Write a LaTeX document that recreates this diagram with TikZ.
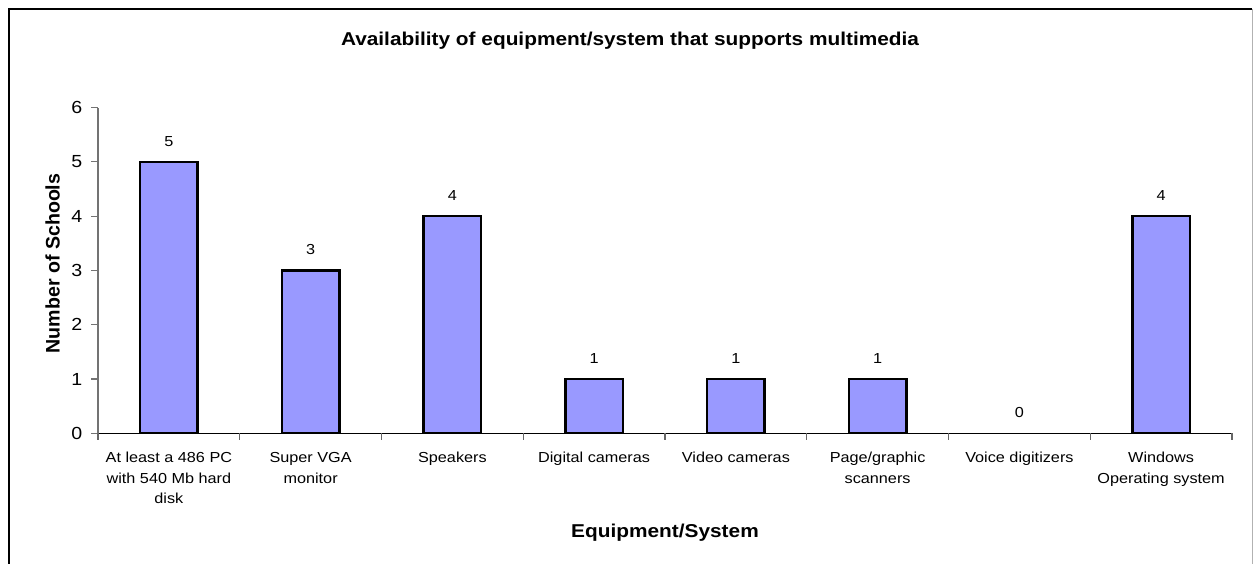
\documentclass[tikz,border=0pt]{standalone}
\usepackage{fontspec}
\setmainfont{Liberation Sans}
\usepackage{graphicx}
% text in this chart is set slightly wide
\newcommand{\widetext}[1]{\scalebox{1.12}[1]{#1}}
\newcommand{\catlines}[1]{\widetext{\begin{tabular}{@{}c@{}}#1\end{tabular}}}
\definecolor{barfill}{HTML}{9999FF}
\begin{document}
\begin{tikzpicture}[x=1pt,y=-1pt,
  barbox/.style={fill=barfill,draw=black,line width=2.3pt},
  vallabel/.style={inner sep=0pt,anchor=center,font=\fontsize{14.5}{17}\selectfont},
  catlabel/.style={inner sep=0pt,anchor=north,font=\fontsize{14.5}{20.5}\selectfont},
  ticklabel/.style={inner sep=0pt,anchor=east,font=\fontsize{17.5}{20}\selectfont},
  titletext/.style={inner sep=0pt,anchor=base,font=\fontsize{18.6}{22}\selectfont\bfseries},
  axisline/.style={line width=1.1pt}]
\useasboundingbox (0,0) rectangle (1253,564);
\fill[white] (0,0) rectangle (1253,564);

% chart frame
\draw[line width=1.3pt,black] (9,564) -- (9,9) -- (1252,9);
\draw[line width=1pt,black!30] (1252,9) -- (1252,564);

% chart title and axis titles
\node[titletext] (title) at (630,46) {\widetext{Availability of equipment/system that supports multimedia}};
\node[titletext] (xtitle) at (665,537) {\widetext{Equipment/System}};
\node[inner sep=0pt,anchor=base,rotate=90,font=\fontsize{19.6}{22}\selectfont\bfseries] (ytitle) at (59.5,263.5) {Number of Schools};

% value axis with ticks
\coordinate (origin) at (98,433.3);
\coordinate (ytop) at (98,107.7);
\coordinate (xend) at (1232,433.3);
\draw[axisline,black!55] (origin) -- (ytop);
\foreach \t in {0,...,6} {
  \draw[axisline,black!55] (91,433.3-54.27*\t) -- (98,433.3-54.27*\t);
  \node[ticklabel] (tick\t) at (82.5,433.3-54.27*\t) {\widetext{\t}};
}

% bars with value labels
\foreach \v [count=\i from 0] in {5,3,4,1,1,1,0,4} {
  \pgfmathsetmacro\cx{98+141.75*(\i+0.5)}
  \ifnum\v>0
    \draw[barbox] (\cx-28.75,433.3) rectangle (\cx+28.75,433.3-54.27*\v);
  \fi
  \node[vallabel] (val\i) at (\cx,433.3-54.27*\v-20.5) {\widetext{\v}};
}

% category axis
\draw[axisline,black] (origin) -- (xend);
\foreach \k in {0,...,8} {
  \draw[axisline,black!60] (98+141.75*\k,433.3) -- (98+141.75*\k,439.5);
}
\node[catlabel] (cat0) at (168.9,448.3) {\catlines{At least a 486 PC\\with 540 Mb hard\\disk}};
\node[catlabel] (cat1) at (310.6,448.3) {\catlines{Super VGA\\monitor}};
\node[catlabel] (cat2) at (452.4,448.3) {\catlines{Speakers}};
\node[catlabel] (cat3) at (594.1,448.3) {\catlines{Digital cameras}};
\node[catlabel] (cat4) at (735.9,448.3) {\catlines{Video cameras}};
\node[catlabel] (cat5) at (877.6,448.3) {\catlines{Page/graphic\\scanners}};
\node[catlabel] (cat6) at (1019.4,448.3) {\catlines{Voice digitizers}};
\node[catlabel] (cat7) at (1161.1,448.3) {\catlines{Windows\\Operating system}};
\end{tikzpicture}
\end{document}
